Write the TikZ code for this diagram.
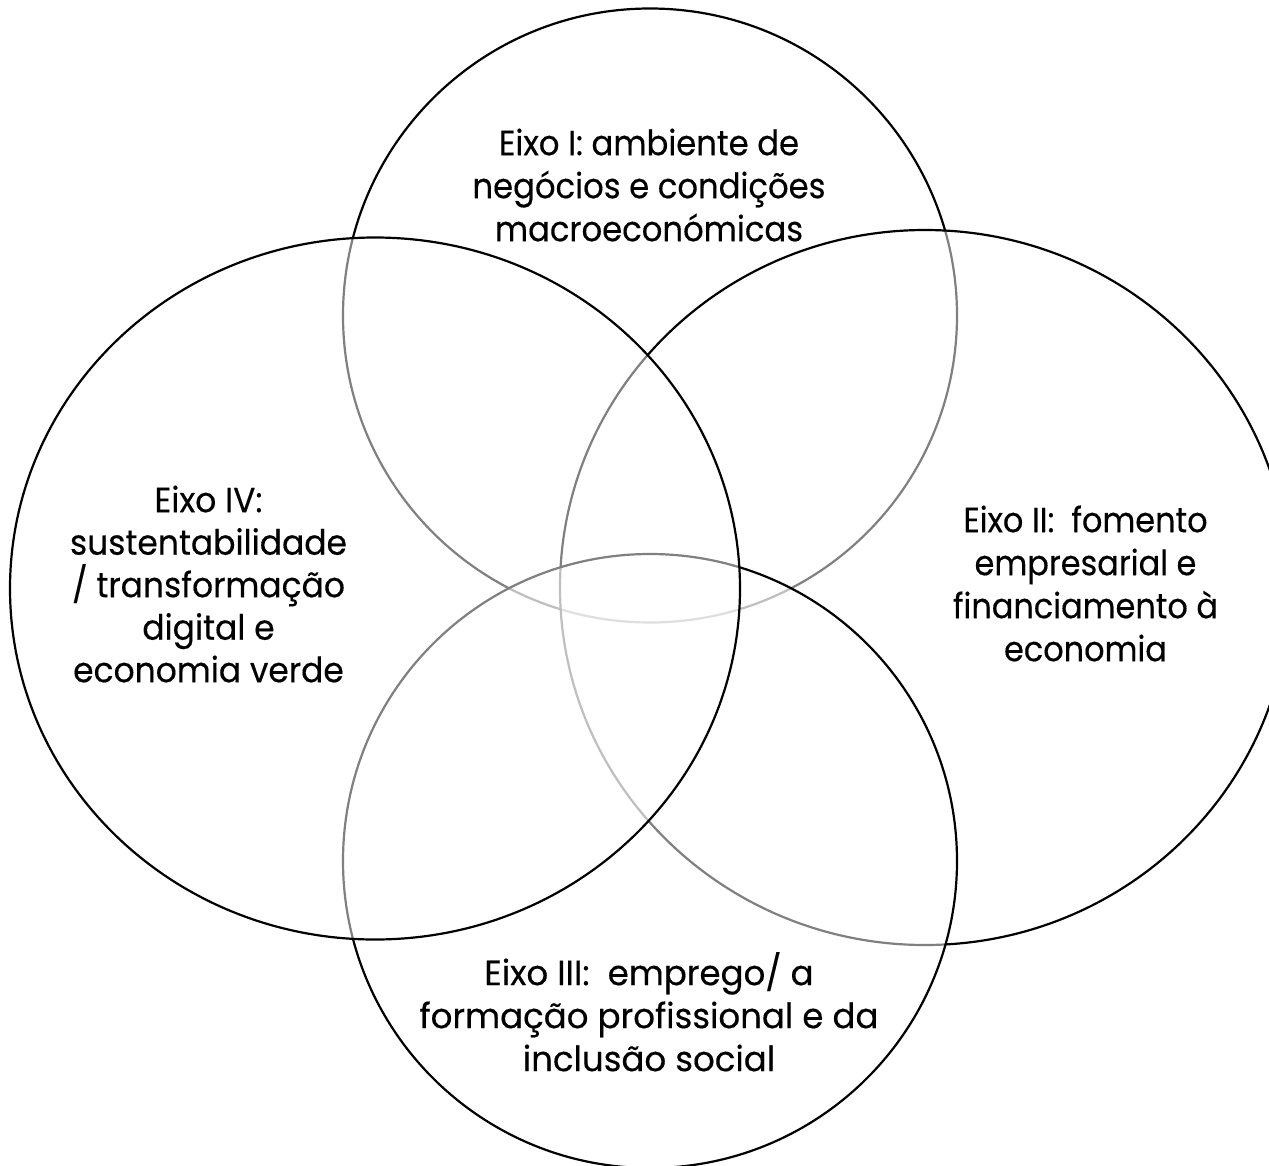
\documentclass[tikz,border=0pt]{standalone}
\usepackage{fontspec}
\setmainfont{Poppins}[FakeBold=0.3]
\usetikzlibrary{shapes.geometric}
\newlength\wtop
\newlength\wright
\newlength\wbottom
\newlength\wleft
\newcommand\lblfont{\fontsize{35}{43}\selectfont}
\newcommand\topstrut{\rule{0pt}{30pt}}
\begin{document}
\settowidth\wtop{\lblfont negócios e condições}%
\settowidth\wright{\lblfont financiamento à}%
\settowidth\wbottom{\lblfont formação profissional e da}%
\settowidth\wleft{\lblfont sustentabilidade}%
\begin{tikzpicture}[x=1pt,y=-1pt,
  circ/.style={ellipse, draw=black, line width=2.2pt, fill=white, fill opacity=0.5, inner sep=0pt, outer sep=0pt},
  lbl/.style={align=center, font=\lblfont, text=black, inner sep=0pt, anchor=north, transform shape}]
\useasboundingbox (0,0) rectangle (1269,1165);
\begin{scope}
\clip (0,0) rectangle (1269,1165);
\node[circ, minimum width=614pt, minimum height=614pt] (ctop) at (650,315.5) {};
\node[circ, minimum width=730pt, minimum height=715pt] (cright) at (925,587.5) {};
\node[circ, minimum width=614pt, minimum height=614pt] (cbottom) at (650,861) {};
\node[circ, minimum width=730pt, minimum height=702pt] (cleft) at (375,588.5) {};
\end{scope}
% first baseline y minus 30 (strut height)
\begin{scope}[shift={(649,125)}, xscale={353/\wtop}]
\node[lbl] (ttop) at (0,0) {\topstrut Eixo I: ambiente de\\negócios e condições\\macroeconómicas};
\end{scope}
\begin{scope}[shift={(1085.5,502)}, xscale={265/\wright}]
\node[lbl] (tright) at (0,0) {\topstrut Eixo II:~ fomento\\empresarial e\\financiamento à\\economia};
\end{scope}
\begin{scope}[shift={(649,952)}, xscale={459/\wbottom}]
\node[lbl] (tbottom) at (0,0) {\topstrut Eixo III:~ emprego/ a\\formação profissional e da\\inclusão social};
\end{scope}
\begin{scope}[shift={(208.5,482)}, xscale={277/\wleft}]
\node[lbl, font=\fontsize{35}{42.5}\selectfont] (tleft) at (0,0) {\topstrut Eixo IV:\\sustentabilidade\\/ transformação\\digital e\\economia verde};
\end{scope}
\end{tikzpicture}
\end{document}
